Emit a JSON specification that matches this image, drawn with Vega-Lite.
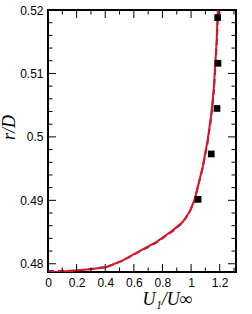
{
  "$schema": "https://vega.github.io/schema/vega-lite/v6.json",
  "width": 188,
  "height": 262,
  "autosize": {"type": "none"},
  "padding": {"left": 48, "top": 10, "right": 16, "bottom": 42},
  "background": "white",
  "config": {
    "view": {"stroke": "black", "strokeWidth": 2},
    "axis": {
      "domain": false,
      "grid": false,
      "ticks": false,
      "labelFont": "Liberation Sans",
      "labelFontSize": 12,
      "labelColor": "black",
      "labelFlush": false,
      "labelOverlap": false,
      "titleFont": "Liberation Serif",
      "titleFontStyle": "italic",
      "titleFontWeight": "normal",
      "titleFontSize": 18,
      "titleColor": "black"
    }
  },
  "resolve": {"axis": {"x": "independent", "y": "independent"}},
  "datasets": {
    "lines": [
      {"series": "blue", "u": 0.0, "r": 0.47885},
      {"series": "blue", "u": 0.1, "r": 0.47888},
      {"series": "blue", "u": 0.2, "r": 0.47895},
      {"series": "blue", "u": 0.3, "r": 0.47918},
      {"series": "blue", "u": 0.407, "r": 0.47948},
      {"series": "blue", "u": 0.523, "r": 0.48048},
      {"series": "blue", "u": 0.641, "r": 0.48195},
      {"series": "blue", "u": 0.76, "r": 0.48335},
      {"series": "blue", "u": 0.876, "r": 0.4852},
      {"series": "blue", "u": 0.944, "r": 0.48655},
      {"series": "blue", "u": 0.99, "r": 0.48815},
      {"series": "blue", "u": 1.024, "r": 0.49},
      {"series": "blue", "u": 1.059, "r": 0.49314},
      {"series": "blue", "u": 1.083, "r": 0.49525},
      {"series": "blue", "u": 1.118, "r": 0.49947},
      {"series": "blue", "u": 1.141, "r": 0.50315},
      {"series": "blue", "u": 1.16, "r": 0.50736},
      {"series": "blue", "u": 1.171, "r": 0.51158},
      {"series": "blue", "u": 1.181, "r": 0.51526},
      {"series": "blue", "u": 1.188, "r": 0.51948},
      {"series": "blue", "u": 1.19, "r": 0.52},
      {"series": "red", "u": 0.0, "r": 0.47868},
      {"series": "red", "u": 0.1, "r": 0.47878},
      {"series": "red", "u": 0.174, "r": 0.47888},
      {"series": "red", "u": 0.291, "r": 0.47912},
      {"series": "red", "u": 0.407, "r": 0.47946},
      {"series": "red", "u": 0.523, "r": 0.48052},
      {"series": "red", "u": 0.639, "r": 0.48199},
      {"series": "red", "u": 0.756, "r": 0.48341},
      {"series": "red", "u": 0.872, "r": 0.48526},
      {"series": "red", "u": 0.941, "r": 0.48657},
      {"series": "red", "u": 0.988, "r": 0.48815},
      {"series": "red", "u": 1.023, "r": 0.48999},
      {"series": "red", "u": 1.058, "r": 0.49314},
      {"series": "red", "u": 1.081, "r": 0.49525},
      {"series": "red", "u": 1.116, "r": 0.49947},
      {"series": "red", "u": 1.139, "r": 0.50315},
      {"series": "red", "u": 1.158, "r": 0.50736},
      {"series": "red", "u": 1.169, "r": 0.51158},
      {"series": "red", "u": 1.179, "r": 0.51526},
      {"series": "red", "u": 1.186, "r": 0.51948},
      {"series": "red", "u": 1.188, "r": 0.52}
    ],
    "exp": [
      {"u": 1.049, "r": 0.49015},
      {"u": 1.141, "r": 0.49731},
      {"u": 1.181, "r": 0.50448},
      {"u": 1.188, "r": 0.5116},
      {"u": 1.186, "r": 0.5188}
    ],
    "xticks": [
      {"v": 0.0, "major": true}, {"v": 0.1, "major": false}, {"v": 0.2, "major": true},
      {"v": 0.3, "major": false}, {"v": 0.4, "major": true}, {"v": 0.5, "major": false},
      {"v": 0.6, "major": true}, {"v": 0.7, "major": false}, {"v": 0.8, "major": true},
      {"v": 0.9, "major": false}, {"v": 1.0, "major": true}, {"v": 1.1, "major": false},
      {"v": 1.2, "major": true}, {"v": 1.3, "major": false}
    ],
    "yticks": [
      {"v": 0.48, "major": true}, {"v": 0.482, "major": false}, {"v": 0.484, "major": false},
      {"v": 0.486, "major": false}, {"v": 0.488, "major": false}, {"v": 0.49, "major": true},
      {"v": 0.492, "major": false}, {"v": 0.494, "major": false}, {"v": 0.496, "major": false},
      {"v": 0.498, "major": false}, {"v": 0.5, "major": true}, {"v": 0.502, "major": false},
      {"v": 0.504, "major": false}, {"v": 0.506, "major": false}, {"v": 0.508, "major": false},
      {"v": 0.51, "major": true}, {"v": 0.512, "major": false}, {"v": 0.514, "major": false},
      {"v": 0.516, "major": false}, {"v": 0.518, "major": false}, {"v": 0.52, "major": true}
    ]
  },
  "layer": [
    {
      "data": {"name": "lines"},
      "transform": [{"filter": "datum.series === 'blue'"}],
      "mark": {"type": "line", "color": "#3030ff", "strokeWidth": 2, "strokeDash": [6, 4], "clip": true},
      "encoding": {
        "x": {
          "field": "u", "type": "quantitative",
          "scale": {"domain": [0, 1.314], "nice": false, "zero": false},
          "axis": {
            "orient": "bottom",
            "values": [0, 0.2, 0.4, 0.6, 0.8, 1, 1.2],
            "labelExpr": "format(datum.value,'~g')",
            "labelPadding": 5,
            "title": "U₁/U∞",
            "titleX": 119,
            "titleY": 32,
            "titleBaseline": "alphabetic"
          }
        },
        "y": {
          "field": "r", "type": "quantitative",
          "scale": {"domain": [0.4787, 0.52], "nice": false, "zero": false},
          "axis": {
            "orient": "left",
            "values": [0.48, 0.49, 0.5, 0.51, 0.52],
            "labelExpr": "format(datum.value,'~g')",
            "labelPadding": 5,
            "title": "r/D",
            "titleX": -39,
            "titleY": 117,
            "titleBaseline": "middle",
            "titleAngle": -90
          }
        },
        "order": {"field": "r", "type": "quantitative"}
      }
    },
    {
      "data": {"name": "lines"},
      "transform": [{"filter": "datum.series === 'red'"}],
      "mark": {"type": "line", "color": "#e31414", "strokeWidth": 2, "clip": true},
      "encoding": {
        "x": {"field": "u", "type": "quantitative", "axis": null},
        "y": {"field": "r", "type": "quantitative", "axis": null},
        "order": {"field": "r", "type": "quantitative"}
      }
    },
    {
      "data": {"name": "exp"},
      "mark": {"type": "point", "shape": "square", "filled": true, "color": "black", "opacity": 1, "size": 45},
      "encoding": {
        "x": {"field": "u", "type": "quantitative", "axis": null},
        "y": {"field": "r", "type": "quantitative", "axis": null}
      }
    },
    {
      "data": {"name": "yticks"},
      "mark": {"type": "tick", "orient": "horizontal", "color": "black", "opacity": 1, "thickness": 1, "clip": true},
      "encoding": {
        "y": {"field": "v", "type": "quantitative", "axis": null},
        "x": {"datum": 0, "type": "quantitative", "axis": null},
        "size": {"condition": {"test": "datum.major", "value": 16}, "value": 9}
      }
    },
    {
      "data": {"name": "yticks"},
      "mark": {"type": "tick", "orient": "horizontal", "color": "black", "opacity": 1, "thickness": 1, "clip": true},
      "encoding": {
        "y": {"field": "v", "type": "quantitative", "axis": null},
        "x": {"datum": 1.314, "type": "quantitative", "axis": null},
        "size": {"condition": {"test": "datum.major", "value": 16}, "value": 9}
      }
    },
    {
      "data": {"name": "xticks"},
      "mark": {"type": "tick", "orient": "vertical", "color": "black", "opacity": 1, "thickness": 1, "clip": true},
      "encoding": {
        "x": {"field": "v", "type": "quantitative", "axis": null},
        "y": {"datum": 0.4787, "type": "quantitative", "axis": null},
        "size": {"condition": {"test": "datum.major", "value": 16}, "value": 9}
      }
    },
    {
      "data": {"name": "xticks"},
      "mark": {"type": "tick", "orient": "vertical", "color": "black", "opacity": 1, "thickness": 1, "clip": true},
      "encoding": {
        "x": {"field": "v", "type": "quantitative", "axis": null},
        "y": {"datum": 0.52, "type": "quantitative", "axis": null},
        "size": {"condition": {"test": "datum.major", "value": 16}, "value": 9}
      }
    }
  ]
}
